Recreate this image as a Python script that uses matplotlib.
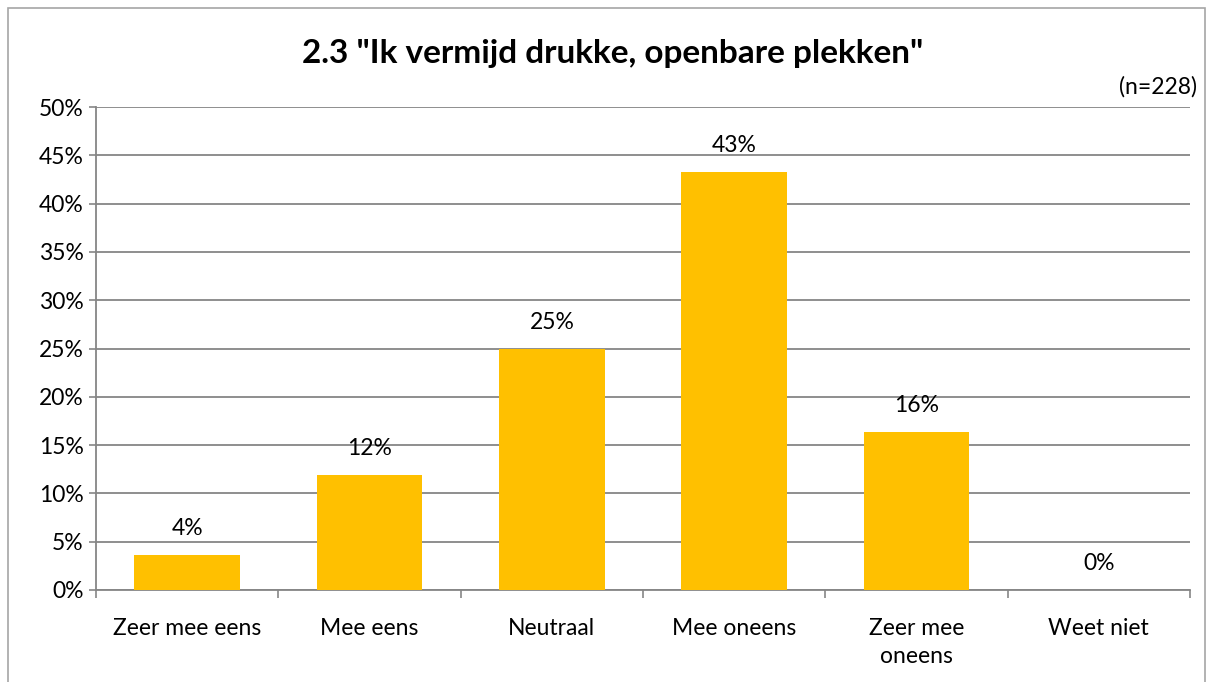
import numpy as np
import matplotlib
matplotlib.use('Agg')
import matplotlib.pyplot as plt
from matplotlib.patches import Rectangle
from matplotlib.ticker import FuncFormatter, MultipleLocator

categories = ['Zeer mee eens', 'Mee eens', 'Neutraal', 'Mee oneens', 'Zeer mee\noneens', 'Weet niet']
values = [3.6, 11.9, 25.0, 43.3, 16.4, 0.0]
labels = ['4%', '12%', '25%', '43%', '16%', '0%']

plt.rcParams['font.family'] = ['Lato', 'DejaVu Sans']
FS = 16.5

fig = plt.figure(figsize=(12.14, 6.82), dpi=100)
ax = fig.add_axes([96 / 1214, 1 - 590 / 682, (1190 - 96) / 1214, (590 - 107) / 682])

# chart border
fig.patches.append(Rectangle((8 / 1214, -0.01), (1205 - 8) / 1214, 1 - 8 / 682 + 0.01,
                             transform=fig.transFigure, fill=False,
                             edgecolor='#a6a6a6', linewidth=1.2))

x = np.arange(len(categories))
ax.bar(x, values, width=0.58, color='#ffc000', zorder=3)
for xi, v, lab in zip(x, values, labels):
    ax.annotate(lab, (xi, v), xytext=(0, 19), textcoords='offset points',
                ha='center', va='center', fontsize=FS)

ax.set_xlim(-0.5, len(categories) - 0.5)
ax.set_ylim(0, 50)
ax.yaxis.set_major_locator(MultipleLocator(5))
ax.yaxis.set_major_formatter(FuncFormatter(lambda v, p: f'{v:.0f}%'))
ax.grid(axis='y', color='#868686', linewidth=1.3, zorder=0)
ax.set_axisbelow(True)

ax.set_xticks(x)
ax.set_xticklabels(categories, linespacing=1.4)
ax.set_xticks(np.arange(-0.5, len(categories)), minor=True)
ax.tick_params(axis='x', which='major', length=0, pad=20, labelsize=FS)
ax.tick_params(axis='x', which='minor', length=6, color='#868686', width=1.2)
ax.tick_params(axis='y', length=5, color='#868686', width=1.2, labelsize=FS, pad=4)

for s in ['top', 'right']:
    ax.spines[s].set_visible(False)
for s in ['left', 'bottom']:
    ax.spines[s].set_color('#868686')
    ax.spines[s].set_linewidth(1.3)

fig.text(0.505, 1 - 54 / 682, '2.3 "Ik vermijd drukke, openbare plekken"',
         ha='center', va='center', fontsize=24, fontweight='bold')
fig.text(1197 / 1214, 1 - 87 / 682, '(n=228)', ha='right', va='center', fontsize=FS)

fig.savefig('out.png', dpi=100)
